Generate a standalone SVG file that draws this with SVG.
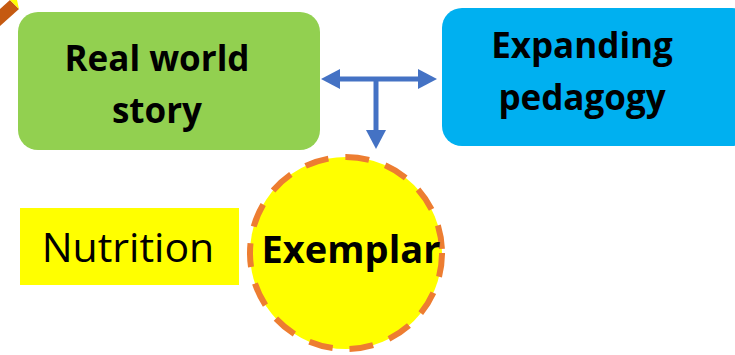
<svg xmlns="http://www.w3.org/2000/svg" width="735" height="355" viewBox="0 0 735 355">
<style>
.t{font-family:"Open Sans","Liberation Sans",sans-serif;fill:#000;text-anchor:middle}
.b{font-weight:bold;font-size:35px}
.con{stroke:#4472C4;stroke-width:5;fill:none}
</style>
<defs>
<marker id="ah" markerWidth="19" markerHeight="20" refX="1" refY="10" orient="auto-start-reverse" markerUnits="userSpaceOnUse">
<path d="M0,0 L19,10 L0,20 Z" fill="#4472C4"/>
</marker>
</defs>
<rect width="735" height="355" fill="#fff"/>
<g id="corner">
<polygon points="0,9 10,0 19,9 0,26" fill="#C55A11"/>
<polygon points="10,0 17,0 19,9" fill="#FFFF00"/>
</g>
<g id="real-world-story">
<rect x="18" y="12" width="302" height="138" rx="20" fill="#92D050"/>
<text class="t b" x="157" y="71">Real world</text>
<text class="t b" x="157" y="123">story</text>
</g>
<g id="expanding-pedagogy">
<rect x="442" y="8" width="310" height="138" rx="20" fill="#00B0F0"/>
<text class="t b" x="582" y="58">Expanding</text>
<text class="t b" x="582" y="110">pedagogy</text>
</g>
<g id="nutrition">
<rect x="20" y="208" width="219" height="77" fill="#FFFF00"/>
<text class="t" x="128" y="262" font-size="41">Nutrition</text>
</g>
<g id="exemplar">
<circle cx="346" cy="253" r="96" fill="#FFFF00" stroke="#ED7D31" stroke-width="6" stroke-dasharray="24 17"/>
<text class="t" x="351" y="263" font-size="38" font-weight="bold">Exemplar</text>
</g>
<g id="connectors">
<line class="con" x1="339" y1="79" x2="419" y2="79" marker-start="url(#ah)" marker-end="url(#ah)"/>
<line class="con" x1="376" y1="79" x2="376" y2="131" marker-end="url(#ah)"/>
</g>
</svg>
